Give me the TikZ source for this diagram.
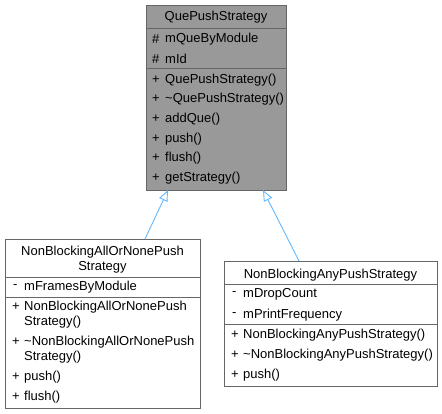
\documentclass[tikz,border=0pt]{standalone}
\usepackage{fontspec}
\setmainfont{Liberation Sans}
\usetikzlibrary{arrows.meta}
\definecolor{bordergray}{HTML}{666666}
\definecolor{boxgray}{HTML}{999999}
\definecolor{edgeblue}{HTML}{63B8FF}
\tikzset{
  box/.style={draw=bordergray, line width=0.9pt, anchor=north west, inner sep=0pt, outer sep=0pt},
  sep/.style={draw=bordergray, line width=0.9pt},
  txt/.style={anchor=west, inner sep=0pt, font=\fontsize{13}{15}\selectfont},
  ctxt/.style={anchor=center, inner sep=0pt, font=\fontsize{13}{15}\selectfont, align=center},
  inherit/.style={draw=edgeblue, line width=0.9pt, -{Triangle[open, length=11pt, width=9pt, fill=white]}}
}
\begin{document}
\begin{tikzpicture}[x=1pt, y=-1pt]
\useasboundingbox (0,0) rectangle (442,413);
% top box
\node[box, fill=boxgray, minimum width=140pt, minimum height=185pt] (top) at (146,5) {};
\draw[sep] (146,28) -- (286,28);
\draw[sep] (146,68) -- (286,68);
\node[ctxt] (t0) at (216,17) {QuePushStrategy};
\node[txt] (ta1s) at (152,39) {\#};
\node[txt] (ta1) at (165,39) {mQueByModule};
\node[txt] (ta2s) at (152,59) {\#};
\node[txt] (ta2) at (165,59) {mId};
\node[txt] (tm1s) at (152,80) {+};
\node[txt] (tm1) at (165,80) {QuePushStrategy()};
\node[txt] (tm2s) at (152,99) {+};
\node[txt] (tm2) at (165,99) {\char"7E QuePushStrategy()};
\node[txt] (tm3s) at (152,119) {+};
\node[txt] (tm3) at (165,119) {addQue()};
\node[txt] (tm4s) at (152,139) {+};
\node[txt] (tm4) at (165,139) {push()};
\node[txt] (tm5s) at (152,158) {+};
\node[txt] (tm5) at (165,158) {flush()};
\node[txt] (tm6s) at (152,178) {+};
\node[txt] (tm6) at (165,178) {getStrategy()};
% left box
\node[box, fill=white, minimum width=195pt, minimum height=169pt] (lbox) at (5,239) {};
\draw[sep] (5,277) -- (200,277);
\draw[sep] (5,297) -- (200,297);
\node[ctxt] (l0) at (102.5,259.5) {NonBlockingAllOrNonePush\\Strategy};
\node[txt] (la1s) at (13,287) {-};
\node[txt] (la1) at (24,287) {mFramesByModule};
\node[txt] (lm1s) at (12,307) {+};
\node[txt] (lm1) at (24,307) {NonBlockingAllOrNonePush};
\node[txt] (lm1b) at (24,322) {Strategy()};
\node[txt] (lm2s) at (12,342) {+};
\node[txt] (lm2) at (24,342) {\char"7E NonBlockingAllOrNonePush};
\node[txt] (lm2b) at (24,357) {Strategy()};
\node[txt] (lm3s) at (12,377) {+};
\node[txt] (lm3) at (24,377) {push()};
\node[txt] (lm4s) at (12,397) {+};
\node[txt] (lm4) at (24,397) {flush()};
% right box
\node[box, fill=white, minimum width=213pt, minimum height=125pt] (rbox) at (224,261) {};
\draw[sep] (224,284) -- (437,284);
\draw[sep] (224,324) -- (437,324);
\node[ctxt] (r0) at (330.5,275) {NonBlockingAnyPushStrategy};
\node[txt] (ra1s) at (232,294) {-};
\node[txt] (ra1) at (243,294) {mDropCount};
\node[txt] (ra2s) at (232,315) {-};
\node[txt] (ra2) at (243,315) {mPrintFrequency};
\node[txt] (rm1s) at (231,335) {+};
\node[txt] (rm1) at (243,335) {NonBlockingAnyPushStrategy()};
\node[txt] (rm2s) at (231,355) {+};
\node[txt] (rm2) at (243,355) {\char"7E NonBlockingAnyPushStrategy()};
\node[txt] (rm3s) at (231,375) {+};
\node[txt] (rm3) at (243,375) {push()};
% inheritance edges
\draw[inherit] ([xshift=42.5pt]lbox.north) -- ([xshift=-48pt]top.south);
\draw[inherit] ([xshift=-31.5pt]rbox.north) -- ([xshift=47pt]top.south);
\end{tikzpicture}
\end{document}
